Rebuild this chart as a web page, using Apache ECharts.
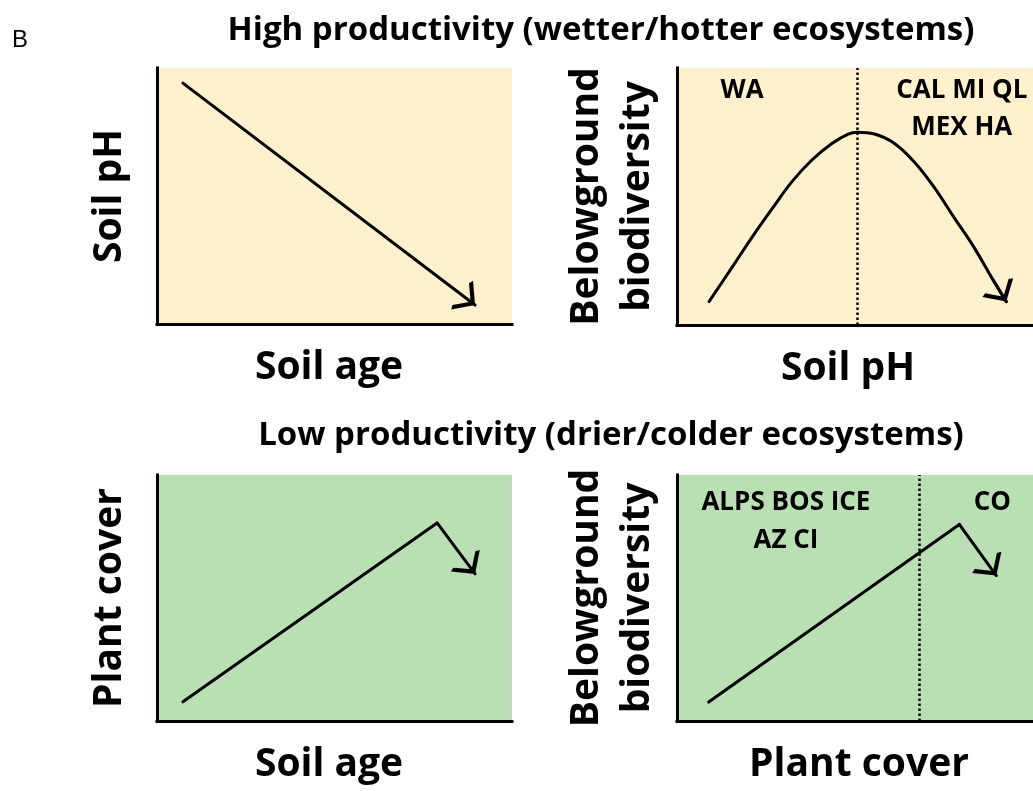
<!DOCTYPE html>
<html>
<head>
<meta charset="utf-8">
<script src="https://cdn.jsdelivr.net/npm/echarts@6/dist/echarts.min.js"></script>
<style>
html, body { margin: 0; padding: 0; background: #fff; }
#chart { width: 1033px; height: 791px; }
</style>
</head>
<body>
<div id="chart"></div>
<script>
// panel values are on a 0-100 scale per axis

// top left: soil pH falls with soil age
const tlX = [7.3, 89.6];
const tlY = [94.1, 7.4];

// top right: belowground biodiversity peaks at intermediate pH
const trX = [9.0, 15.6, 21.2, 26.8, 32.3, 37.9, 43.6, 48.1, 50.7, 55.5, 61.0, 66.6, 72.1, 77.7, 83.3, 88.8, 92.5];
const trY = [9.1, 22.7, 34.4, 45.4, 55.8, 64.2, 70.7, 74.3, 75.0, 74.3, 70.7, 63.5, 53.8, 42.1, 30.5, 17.5, 9.1];
const trSplit = 50.6;
const trSites = ['WA', 'CAL MI QL', 'MEX HA'];
const trSiteX = [18.3, 80, 80];
const trSiteY = [91.2, 91.2, 77.0];

// bottom left: plant cover rises then drops
const blX = [7.3, 78.9, 89.6];
const blY = [7.8, 80.5, 59.8];

// bottom right: biodiversity vs plant cover
const brX = [8.9, 79.3, 89.7];
const brY = [7.7, 79.9, 59.1];
const brSplit = 68.1;
const brSites = ['ALPS BOS ICE', 'AZ CI', 'CO'];
const brSiteX = [30.6, 30.6, 88.6];
const brSiteY = [88.7, 73.5, 88.7];

const xNames = ['Soil age', 'Soil pH', 'Soil age', 'Plant cover'];
const yNames = ['Soil pH', 'Belowground\nbiodiversity', 'Plant cover', 'Belowground\nbiodiversity'];
const titles = ['High productivity (wetter/hotter ecosystems)', 'Low productivity (drier/colder ecosystems)'];

const chart = echarts.init(document.getElementById('chart'));

const FONT = '"Open Sans", "DejaVu Sans", sans-serif';
const yellow = '#fff1ce';
const green = '#bbdfb5';
const ink = '#000';
const curve = { color: ink, width: 3, opacity: 1, cap: 'round', join: 'round' };
const dots = { color: ink, width: 2.5, opacity: 1, type: [2.5, 2.5] };
// open chevron, tip sits at the symbol centre
const arrow = 'path://M5,-10.5L5,-10.5M5,0L10,9.5L8.8,10.5L5,3.3L1.2,10.5L0,9.5Z';
const arrowSize = [20, 36];

const nameStyle = { fontFamily: FONT, fontWeight: 'bold', fontSize: 39, color: ink, lineHeight: 51 };

const gridBoxes = [
  { left: 157, top: 68, width: 355, height: 256, backgroundColor: yellow },
  { left: 677, top: 68, width: 360, height: 257, backgroundColor: yellow },
  { left: 157, top: 475, width: 355, height: 256, backgroundColor: green },
  { left: 677, top: 475, width: 360, height: 257, backgroundColor: green }
];
const xNamePad = [[0, 11, 0, 0], [0, 14, 0, 0], [0, 11, 0, 0], [0, 0, 0, 8]];
const yNameGap = [22, 14, 22, 14];

const axisBase = {
  type: 'value',
  min: 0,
  max: 100,
  axisLine: { show: true, onZero: false, lineStyle: { color: ink, width: 3, cap: 'square' } },
  axisTick: { show: false },
  axisLabel: { show: false },
  splitLine: { show: false },
  nameLocation: 'middle'
};

const pts = (xs, ys) => xs.map((x, i) => [x, ys[i]]);
const seg = (xs, ys, a, b) => ({ coords: [[xs[a], ys[a]], [xs[b], ys[b]]] });

const siteSeries = (idx, names, xs, ys) => ({
  type: 'scatter',
  xAxisIndex: idx,
  yAxisIndex: idx,
  symbolSize: 0,
  silent: true,
  itemStyle: { opacity: 1 },
  data: names.map((n, i) => ({ name: n, value: [xs[i], ys[i]] })),
  label: {
    show: true,
    position: 'inside',
    formatter: '{b}',
    fontFamily: FONT,
    fontWeight: 'bold',
    fontSize: 26,
    color: ink
  }
});

const arrowLines = (idx, data) => ({
  type: 'lines', coordinateSystem: 'cartesian2d', xAxisIndex: idx, yAxisIndex: idx, silent: true,
  symbol: ['none', arrow], symbolSize: arrowSize, lineStyle: curve, data: data
});
const plainLines = (idx, data, style) => ({
  type: 'lines', coordinateSystem: 'cartesian2d', xAxisIndex: idx, yAxisIndex: idx, silent: true,
  symbol: 'none', lineStyle: style || curve, data: data
});
// vertical dotted divider spanning the whole y range
const divider = (idx, x) => plainLines(idx, [{ coords: [[x, 0], [x, 100]] }], dots);

const option = {
  backgroundColor: '#fff',
  animation: false,
  graphic: [
    { type: 'text', x: 12, y: 28, style: { text: 'B', font: '24px "Liberation Sans", Arial, sans-serif', fill: ink } },
    { type: 'text', x: 601, y: 14, style: { text: titles[0], font: 'bold 33px ' + FONT, fill: ink, align: 'center' } },
    { type: 'text', x: 611, y: 419, style: { text: titles[1], font: 'bold 33px ' + FONT, fill: ink, align: 'center' } }
  ],
  grid: gridBoxes.map(g => Object.assign({ show: true, borderWidth: 0 }, g)),
  xAxis: xNames.map((n, i) => Object.assign({}, axisBase, {
    gridIndex: i,
    name: n,
    nameGap: 18,
    nameTextStyle: Object.assign({}, nameStyle, { padding: xNamePad[i] })
  })),
  yAxis: yNames.map((n, i) => Object.assign({}, axisBase, {
    gridIndex: i,
    name: n,
    nameGap: yNameGap[i],
    nameTextStyle: nameStyle
  })),
  series: [
    arrowLines(0, [seg(tlX, tlY, 0, 1)]),
    divider(1, trSplit),
    {
      type: 'line', xAxisIndex: 1, yAxisIndex: 1, silent: true, smooth: 0.4,
      showSymbol: false, lineStyle: curve, data: pts(trX, trY)
    },
    arrowLines(1, [seg(trX, trY, trX.length - 2, trX.length - 1)]),
    siteSeries(1, trSites, trSiteX, trSiteY),
    plainLines(2, [seg(blX, blY, 0, 1)]),
    arrowLines(2, [seg(blX, blY, 1, 2)]),
    divider(3, brSplit),
    plainLines(3, [seg(brX, brY, 0, 1)]),
    arrowLines(3, [seg(brX, brY, 1, 2)]),
    siteSeries(3, brSites, brSiteX, brSiteY)
  ]
};

chart.setOption(option);
</script>
</body>
</html>
